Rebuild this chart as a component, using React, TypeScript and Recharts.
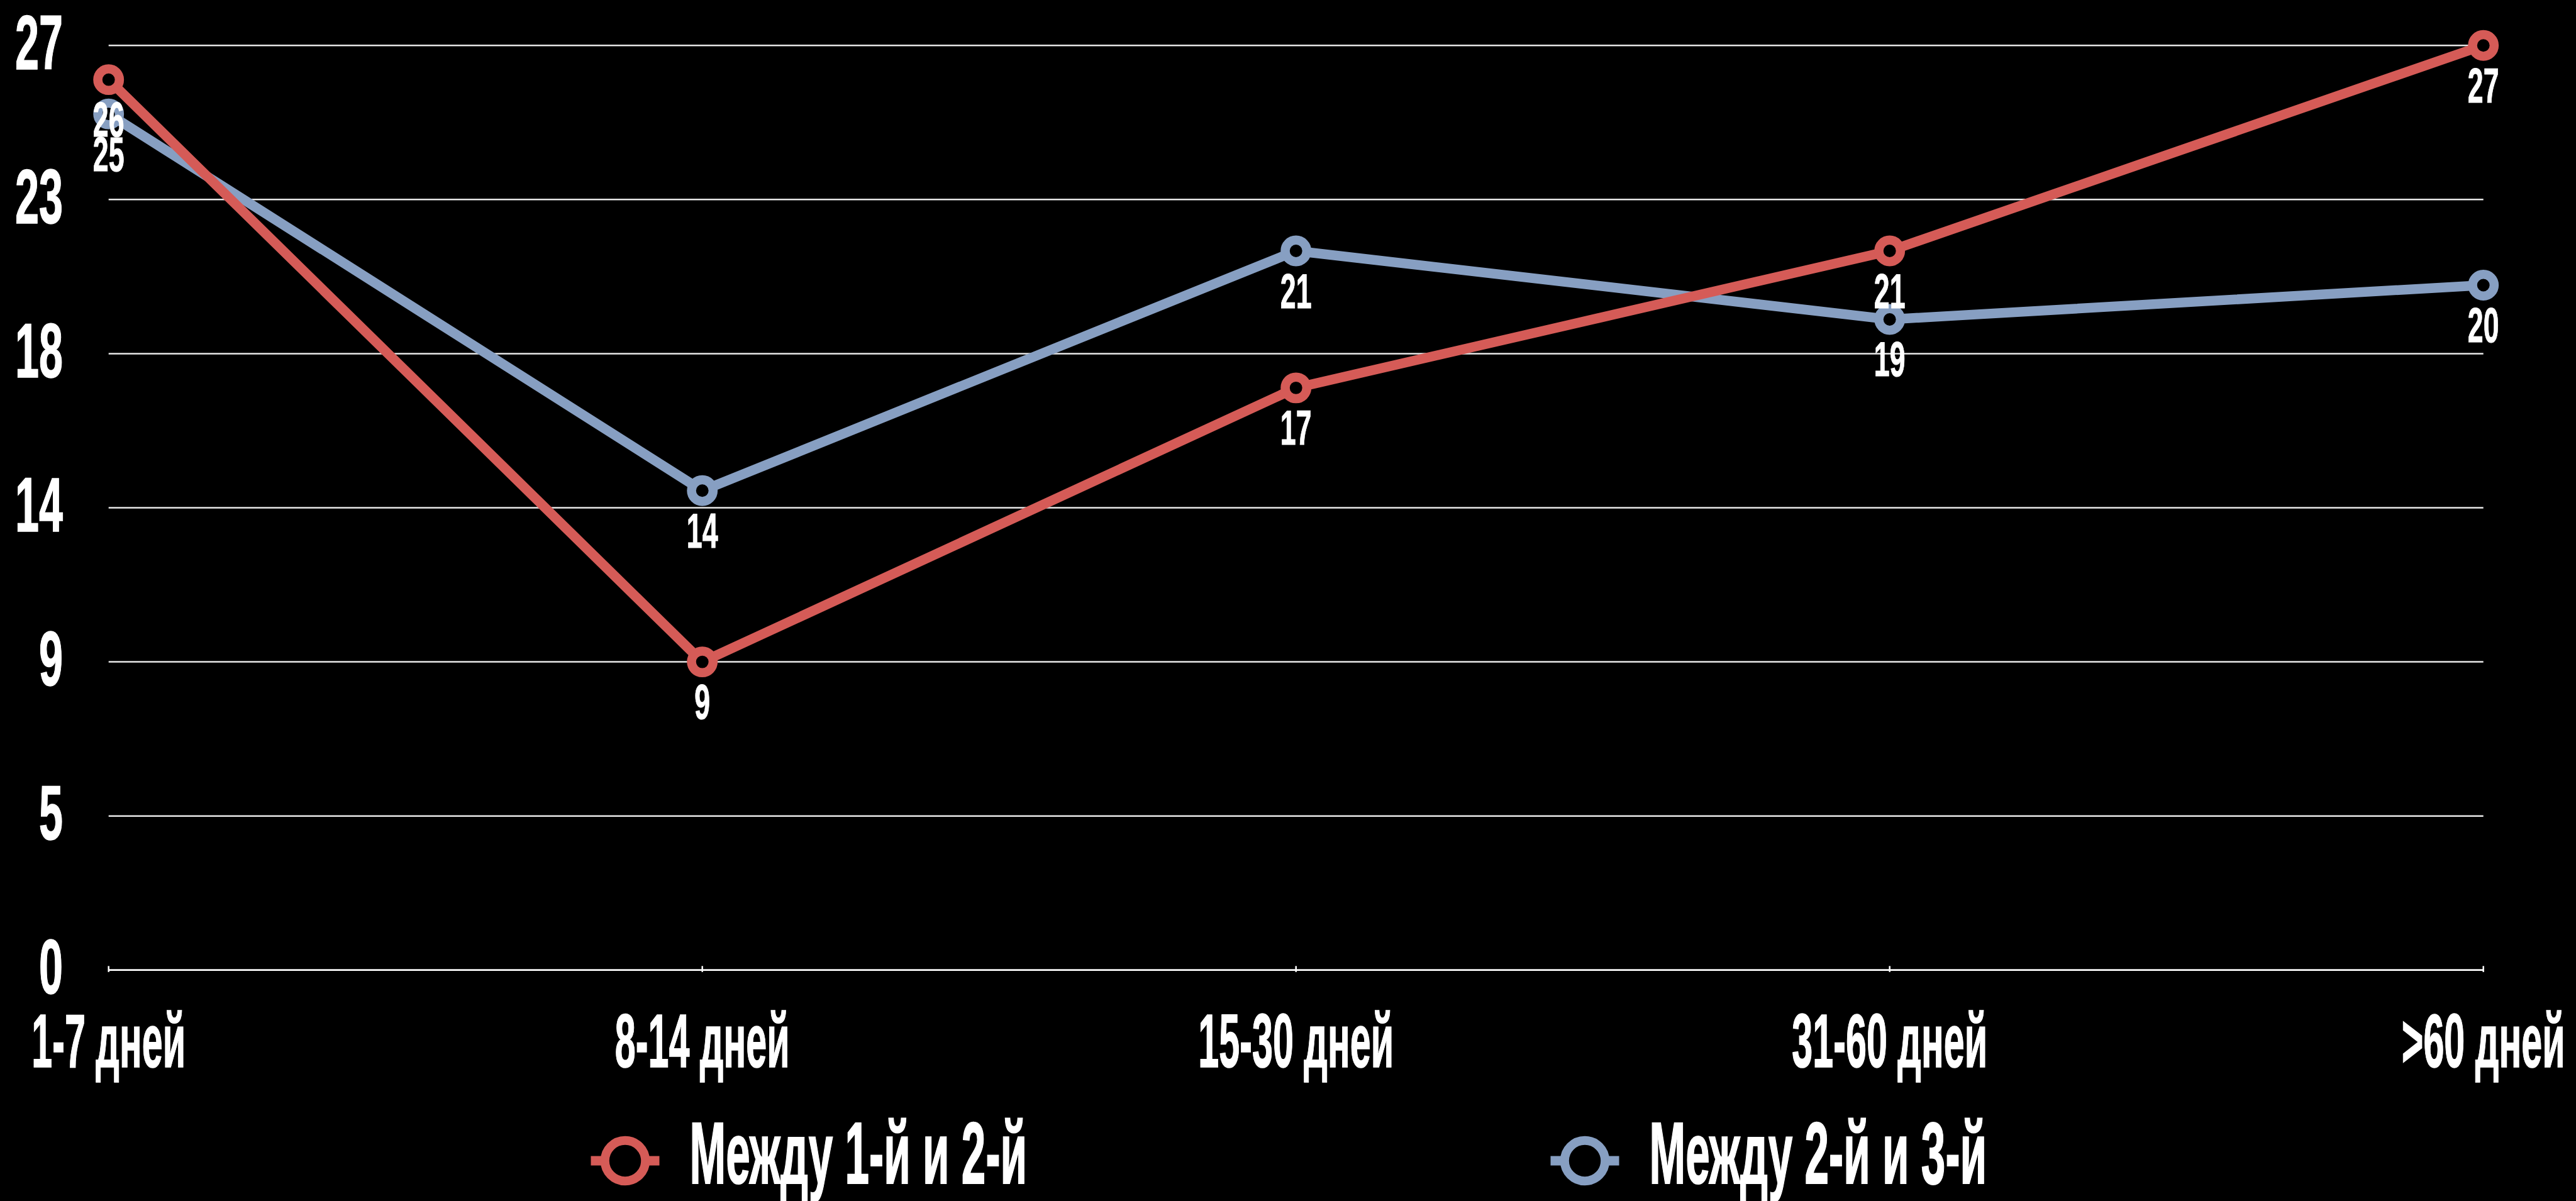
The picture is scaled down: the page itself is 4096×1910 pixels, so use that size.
import React from 'react';
import { LineChart, Line, XAxis, YAxis, CartesianGrid, Legend, LabelList } from 'recharts';

const categories = ['1-7 дней', '8-14 дней', '15-30 дней', '31-60 дней', '>60 дней'];
const series1Name = 'Между 1-й и 2-й';
const series2Name = 'Между 2-й и 3-й';
const series1Values = [26, 9, 17, 21, 27];
const series2Values = [25, 14, 21, 19, 20];
const yTicks = [0, 4.5, 9, 13.5, 18, 22.5, 27];

const RED = '#D55B57';
const BLUE = '#879FC2';
const FONT = '"Liberation Sans", Arial, sans-serif';

const W = 4096;
const H = 1910;

const data = categories.map((c, i) => ({ name: c, s1: series1Values[i], s2: series2Values[i] }));

const legendItems = [
  { name: series1Name, color: RED },
  { name: series2Name, color: BLUE },
];

const XTick = (props: any) => {
  const { x, y, payload } = props;
  return (
    <g>
      <line x1={x} x2={x} y1={y - 6.5} y2={y + 3} stroke="#fff" strokeWidth={2.5} />
      <text
        transform={`translate(${x},${y + 154.4}) scale(0.49,1)`}
        textAnchor="middle"
        fill="#fff"
        stroke="#fff"
        strokeWidth={1.5}
        fontFamily={FONT}
        fontWeight={700}
        fontSize={121}
      >
        {payload.value}
      </text>
    </g>
  );
};

const YTick = (props: any) => {
  const { x, y, payload } = props;
  return (
    <text
      transform={`translate(${x - 72.8},${y + 37.4}) scale(0.56,1)`}
      textAnchor="end"
      fill="#fff"
      stroke="#fff"
      strokeWidth={1.5}
      fontFamily={FONT}
      fontWeight={700}
      fontSize={122}
    >
      {Math.round(payload.value)}
    </text>
  );
};

const DataLabel = (props: any) => {
  const x = props.x ?? props.viewBox?.x;
  const y = props.y ?? props.viewBox?.y;
  if (x == null || y == null) return null;
  return (
    <text
      transform={`translate(${x},${y + 90.5}) scale(0.58,1)`}
      textAnchor="middle"
      fill="#fff"
      stroke="#fff"
      strokeWidth={1}
      fontFamily={FONT}
      fontWeight={700}
      fontSize={77}
    >
      {props.value}
    </text>
  );
};

const LegendContent = () => {
  const cy = 60;
  return (
    <svg width={W} height={124} style={{ display: 'block', overflow: 'visible' }}>
      {legendItems.map((it, i) => {
        const center = 2051 + (i - 0.5) * 1526;
        const left = center - 348.5;
        return (
          <g key={it.name}>
            <line x1={left} x2={left + 109} y1={cy} y2={cy} stroke={it.color} strokeWidth={15} />
            <circle cx={left + 54.5} cy={cy} r={32.2} fill="#000" stroke={it.color} strokeWidth={14} />
            <text
              transform={`translate(${left + 157},${cy + 36}) scale(0.495,1)`}
              fill="#fff"
              stroke="#fff"
              strokeWidth={2}
              fontFamily={FONT}
              fontWeight={700}
              fontSize={140}
            >
              {it.name}
            </text>
          </g>
        );
      })}
    </svg>
  );
};

export default function App() {
  return (
    <div style={{ position: 'absolute', left: 0, top: 0, width: W, height: H, background: '#000', overflow: 'hidden' }}>
      <LineChart
        width={W}
        height={H}
        data={data}
        margin={{ top: 72.2, right: 147.3, left: 0, bottom: 167.2 }}
      >
        <CartesianGrid vertical={false} stroke="#e8e8e8" strokeWidth={2.5} />
        <XAxis
          dataKey="name"
          height={200}
          interval={0}
          tickSize={0}
          tickMargin={0}
          tickLine={false}
          axisLine={{ stroke: '#fff', strokeWidth: 2.5 }}
          tick={<XTick />}
          padding={{ left: 0, right: 0 }}
        />
        <YAxis
          width={172.7}
          domain={[0, 27]}
          ticks={yTicks}
          interval={0}
          tickSize={0}
          tickMargin={0}
          tickLine={false}
          axisLine={false}
          tick={<YTick />}
        />
        <Legend
          layout="horizontal"
          verticalAlign="middle"
          align="center"
          content={<LegendContent />}
          wrapperStyle={{ top: 1786, left: 0, width: W }}
        />
        <Line
          dataKey="s2"
          name={series2Name}
          stroke={BLUE}
          strokeWidth={15.5}
          dot={{ r: 17.2, fill: '#000', stroke: BLUE, strokeWidth: 14.5 }}
          activeDot={false}
          isAnimationActive={false}
        >
          <LabelList dataKey="s2" content={<DataLabel />} />
        </Line>
        <Line
          dataKey="s1"
          name={series1Name}
          stroke={RED}
          strokeWidth={15.5}
          dot={{ r: 17.2, fill: '#000', stroke: RED, strokeWidth: 14.5 }}
          activeDot={false}
          isAnimationActive={false}
        >
          <LabelList dataKey="s1" content={<DataLabel />} />
        </Line>
      </LineChart>
    </div>
  );
}
